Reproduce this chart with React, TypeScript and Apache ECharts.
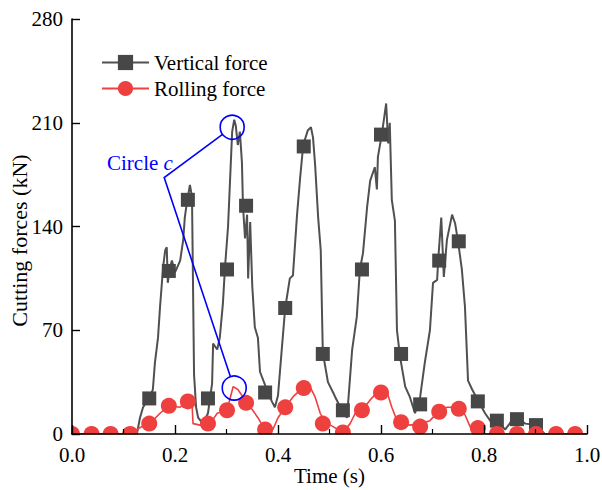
import React, { useEffect, useRef } from "react";
import * as echarts from "echarts";

// Vertical force trace (time s, force kN)
const verticalTime = [
  0.0, 0.126, 0.132, 0.138, 0.151, 0.157, 0.161, 0.167, 0.171, 0.177,
  0.181, 0.184, 0.186, 0.19, 0.194, 0.2, 0.21, 0.216, 0.219, 0.223,
  0.229, 0.233, 0.237, 0.241, 0.245, 0.254, 0.264, 0.272, 0.274, 0.282,
  0.287, 0.293, 0.297, 0.303, 0.307, 0.311, 0.315, 0.318, 0.322, 0.326,
  0.33, 0.332, 0.336, 0.34, 0.342, 0.346, 0.35, 0.355, 0.361, 0.365,
  0.375, 0.388, 0.394, 0.4, 0.408, 0.414, 0.423, 0.429, 0.437, 0.443,
  0.449, 0.458, 0.464, 0.468, 0.472, 0.478, 0.483, 0.487, 0.497, 0.507,
  0.511, 0.524, 0.534, 0.544, 0.553, 0.559, 0.565, 0.573, 0.579, 0.588,
  0.592, 0.594, 0.602, 0.61, 0.614, 0.617, 0.621, 0.627, 0.631, 0.637,
  0.647, 0.656, 0.666, 0.676, 0.685, 0.695, 0.701, 0.709, 0.711, 0.717,
  0.722, 0.728, 0.738, 0.744, 0.75, 0.757, 0.763, 0.769, 0.777, 0.788,
  0.802, 0.816, 0.825, 0.841, 0.854, 0.864, 0.88, 0.901, 0.918, 1.0,
];
const verticalForce = [
  0, 0, 11, 18, 25, 30, 48, 65, 86, 113,
  124, 126, 102, 112, 117, 109, 117, 131, 146, 156,
  168, 160, 40, 18, 11, 7, 14, 34, 61, 57,
  65, 88, 112, 140, 172, 204, 212, 208, 195, 204,
  183, 154, 132, 148, 105, 143, 100, 72, 65, 42,
  33, 22, 18, 26, 60, 85, 105, 107, 148, 173,
  195, 205, 207, 200, 182, 146, 124, 55, 35, 28,
  25, 16, 11, 57, 79, 111, 122, 153, 171, 180,
  165, 187, 203, 223, 196, 210, 158, 144, 70, 52,
  32, 25, 14, 25, 48, 70, 102, 104, 117, 146,
  106, 131, 148, 142, 129, 111, 86, 36, 30, 23,
  14, 7, 9, 3, 9, 11, 7, 6, 0, 0,
];

// Rolling force trace
const rollingTime = [
  0.0, 0.122, 0.126, 0.146, 0.151, 0.171, 0.184, 0.19, 0.21, 0.223,
  0.233, 0.235, 0.249, 0.268, 0.282, 0.301, 0.313, 0.322, 0.34, 0.351,
  0.361, 0.371, 0.379, 0.39, 0.4, 0.414, 0.429, 0.447, 0.462, 0.472,
  0.482, 0.491, 0.507, 0.526, 0.54, 0.55, 0.563, 0.579, 0.598, 0.612,
  0.621, 0.631, 0.643, 0.656, 0.676, 0.695, 0.711, 0.728, 0.75, 0.763,
  0.773, 0.788, 0.802, 1.0,
];
const rollingForce = [
  0, 0, 3, 7, 7, 14, 18, 19, 18, 23,
  21, 7, 6, 7, 14, 16, 32, 30, 21, 16,
  11, 5, 1, 3, 11, 18, 25, 31, 32, 25,
  14, 8, 5, 1, 7, 14, 16, 23, 30, 28,
  18, 9, 7, 6, 7, 9, 15, 18, 18, 13,
  5, 1, 0, 0,
];

// Markers
const verticalMarkerTime = [
  0.15, 0.188, 0.225, 0.264, 0.301, 0.338, 0.375, 0.414, 0.45, 0.487,
  0.526, 0.563, 0.6, 0.639, 0.676, 0.713, 0.751, 0.788, 0.825, 0.864, 0.901,
];
const verticalMarkerForce = [
  24, 110, 158, 24, 111, 154, 28, 85, 194, 54,
  16, 111, 202, 54, 20, 117, 130, 22, 9, 10, 6,
];
const rollingMarkerTime = [
  0.0, 0.038, 0.075, 0.113, 0.15, 0.188, 0.225, 0.264, 0.301, 0.338,
  0.375, 0.414, 0.45, 0.487, 0.526, 0.563, 0.6, 0.639, 0.676, 0.713,
  0.751, 0.788, 0.825, 0.864, 0.901, 0.94, 0.977,
];
const rollingMarkerForce = [
  0, 0, 0, 0, 7, 19, 22, 7, 16, 21,
  3, 18, 31, 7, 1, 16, 28, 8, 5, 15,
  17, 4, 0, 0, 0, 0, 0,
];

// Annotation anchors (data coords)
const circleCenters = [
  [0.311, 207],
  [0.315, 31],
];
const calloutCorner = [0.179, 173];
const calloutLabelAnchor = [0.068, 183];

const xTicks = [0, 1, 0.2];
const yTicks = [0, 280, 70];

const FONT = "Liberation Serif";
const GRAY_LINE = "#505050";
const GRAY_MARK = "#474747";
const RED = "#ef4040";
const BLUE = "#0000ff";

const zip = (a: number[], b: number[]) => a.map((t, i) => [t, b[i]]);

export default function App() {
  const ref = useRef<HTMLDivElement>(null);

  useEffect(() => {
    const chart = echarts.init(ref.current!, null, { renderer: "svg" });
    chart.setOption({
      animation: false,
      backgroundColor: "#ffffff",
      textStyle: { fontFamily: FONT },
      grid: { left: 72, top: 19, right: 15, bottom: 56, containLabel: false, outerBoundsMode: "none" },
      legend: {
        orient: "vertical",
        left: 101,
        top: 52,
        padding: 0,
        itemGap: 5,
        itemWidth: 47,
        itemHeight: 19,
        textStyle: { fontFamily: FONT, fontSize: 21, color: "#000" },
        data: ["Vertical force", "Rolling force"],
      },
      xAxis: {
        type: "value",
        min: xTicks[0],
        max: xTicks[1],
        interval: xTicks[2],
        z: 10,
        name: "Time (s)",
        nameLocation: "middle",
        nameGap: 31,
        nameMoveOverlap: false,
        nameTextStyle: { fontFamily: FONT, fontSize: 21, color: "#000" },
        axisLine: { show: true, onZero: false, lineStyle: { color: "#000", width: 1.6 } },
        axisTick: { show: true, inside: true, length: 9, lineStyle: { color: "#000", width: 1.4 } },
        minorTick: { show: true, splitNumber: 2, length: 5, lineStyle: { color: "#000", width: 1.2 } },
        axisLabel: {
          fontFamily: FONT,
          fontSize: 21,
          color: "#000",
          margin: 10,
          formatter: (v: number) => v.toFixed(1),
        },
        splitLine: { show: false },
      },
      yAxis: {
        type: "value",
        min: yTicks[0],
        max: yTicks[1],
        interval: yTicks[2],
        z: 10,
        name: "Cutting forces (kN)",
        nameLocation: "middle",
        nameGap: 42,
        nameMoveOverlap: false,
        nameTextStyle: { fontFamily: FONT, fontSize: 22, color: "#000", padding: [0, 28, 0, 0] },
        axisLine: { show: true, onZero: false, lineStyle: { color: "#000", width: 1.6 } },
        axisTick: { show: true, inside: true, length: 8, lineStyle: { color: "#000", width: 1.4 } },
        axisLabel: { fontFamily: FONT, fontSize: 21, color: "#000", margin: 9 },
        splitLine: { show: false },
      },
      series: [
        {
          name: "Vertical force",
          type: "line",
          data: zip(verticalTime, verticalForce),
          showSymbol: false,
          symbol: "rect",
          lineStyle: { color: GRAY_LINE, width: 2 },
          itemStyle: { color: GRAY_MARK },
          z: 2,
        },
        {
          name: "Vertical force",
          type: "scatter",
          data: zip(verticalMarkerTime, verticalMarkerForce),
          symbol: "rect",
          symbolSize: 14,
          itemStyle: { color: GRAY_MARK, opacity: 1 },
          z: 3,
        },
        {
          name: "Rolling force",
          type: "line",
          data: zip(rollingTime, rollingForce),
          showSymbol: false,
          symbol: "circle",
          lineStyle: { color: RED, width: 1.6 },
          itemStyle: { color: RED },
          z: 4,
        },
        {
          name: "Rolling force",
          type: "scatter",
          data: zip(rollingMarkerTime, rollingMarkerForce),
          symbol: "circle",
          symbolSize: 16,
          itemStyle: { color: RED, opacity: 1 },
          z: 5,
        },
      ],
    });

    const px = (p: number[]) => chart.convertToPixel({ gridIndex: 0 }, p) as number[];
    const origin = px([0, 0]);
    const farX = px([1, 0]);
    const c1 = px(circleCenters[0]);
    const c2 = px(circleCenters[1]);
    const corner = px(calloutCorner);
    const lab = px(calloutLabelAnchor);
    const r = 12;
    const edge = (c: number[]) => {
      const dx = corner[0] - c[0];
      const dy = corner[1] - c[1];
      const d = Math.sqrt(dx * dx + dy * dy);
      return [c[0] + (dx / d) * r, c[1] + (dy / d) * r];
    };

    chart.setOption({
      graphic: [
        // clip markers to the plotting area
        { type: "rect", z: 8, silent: true, shape: { x: origin[0] - 30, y: origin[1] + 0.5, width: farX[0] - origin[0] + 60, height: 9 }, style: { fill: "#fff" } },
        { type: "rect", z: 8, silent: true, shape: { x: origin[0] - 30, y: origin[1] - 12, width: 29.5, height: 21 }, style: { fill: "#fff" } },
        { type: "rect", z: 8, silent: true, shape: { x: farX[0] + 0.5, y: origin[1] - 12, width: 20, height: 21 }, style: { fill: "#fff" } },
        { type: "circle", z: 20, silent: true, shape: { cx: c1[0], cy: c1[1], r }, style: { fill: "none", stroke: BLUE, lineWidth: 1.6 } },
        { type: "circle", z: 20, silent: true, shape: { cx: c2[0], cy: c2[1], r }, style: { fill: "none", stroke: BLUE, lineWidth: 1.6 } },
        {
          type: "polyline",
          z: 20,
          silent: true,
          shape: { points: [edge(c1), corner, edge(c2)] },
          style: { fill: "none", stroke: BLUE, lineWidth: 1.6 },
        },
        {
          type: "text",
          z: 20,
          x: lab[0],
          y: lab[1],
          silent: true,
          style: {
            text: "{a|Circle }{b|c}",
            align: "left",
            verticalAlign: "middle",
            fill: BLUE,
            fontFamily: FONT,
            fontSize: 21,
            rich: {
              a: { fontFamily: FONT, fontSize: 21, fill: BLUE },
              b: { fontFamily: FONT, fontSize: 21, fontStyle: "italic", fill: BLUE },
            },
          },
        },
      ],
    });

    return () => chart.dispose();
  }, []);

  return (
    <div
      ref={ref}
      style={{ position: "fixed", left: 0, top: 0, width: 602, height: 490, background: "#fff" }}
    />
  );
}
